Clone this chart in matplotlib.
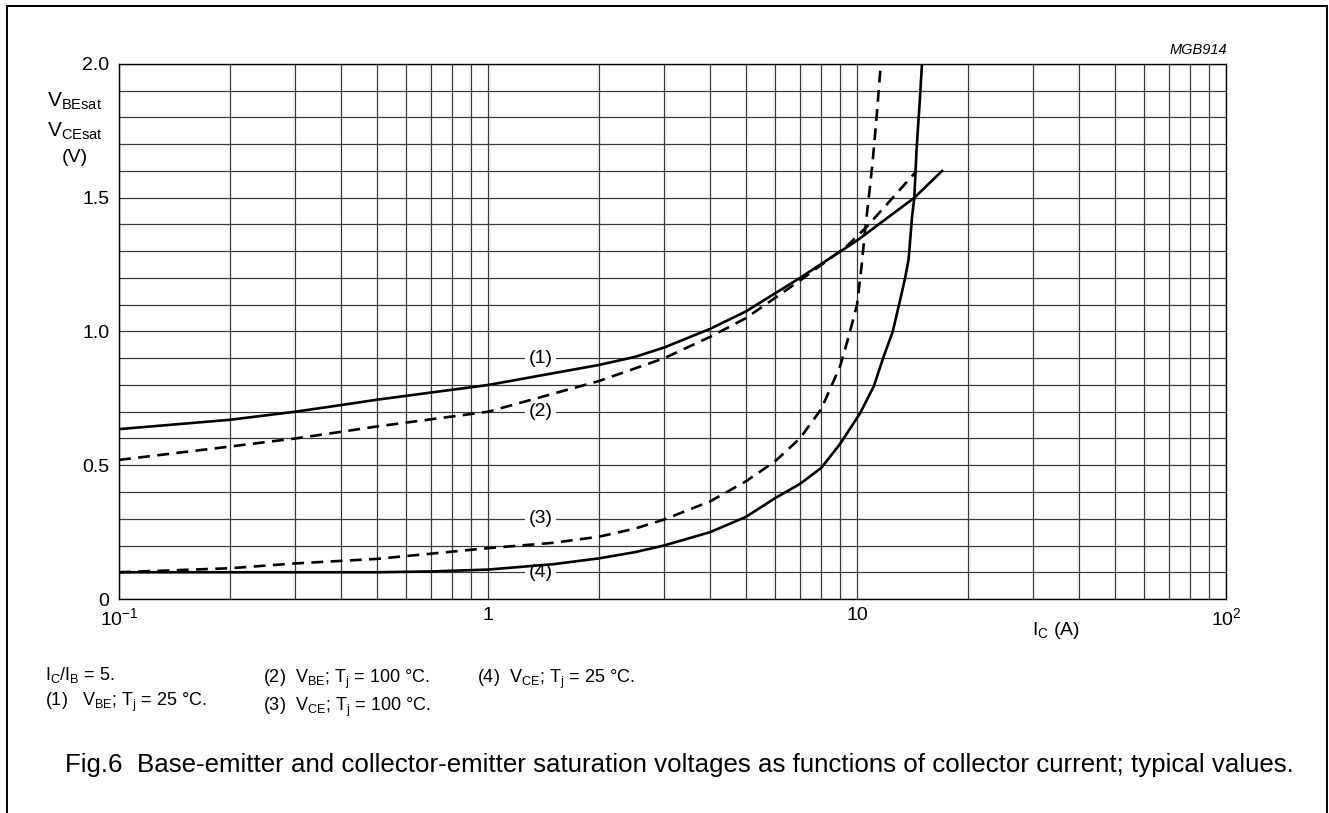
import numpy as np
import matplotlib.pyplot as plt
from matplotlib.lines import Line2D
from matplotlib.ticker import FixedLocator, LogLocator, NullFormatter

plt.rcParams['font.family'] = ['Liberation Sans', 'DejaVu Sans']
plt.rcParams['mathtext.fontset'] = 'custom'
plt.rcParams['mathtext.rm'] = 'Liberation Sans'
plt.rcParams['mathtext.it'] = 'Liberation Sans:italic'

# ---- data (IC in A, V in volts) ----
ic_1 = [0.1, 0.2, 0.3, 0.4, 0.5, 1, 2, 2.5, 3, 4, 5, 7, 10, 14.3, 17]
v_1 = [0.635, 0.67, 0.70, 0.725, 0.745, 0.80, 0.875, 0.905, 0.94, 1.01, 1.075, 1.20, 1.34, 1.50, 1.60]

ic_2 = [0.1, 0.2, 0.3, 0.4, 0.5, 1, 2, 3, 4, 5, 7, 9.4, 10.6, 12.5, 14.5]
v_2 = [0.52, 0.57, 0.60, 0.625, 0.645, 0.70, 0.815, 0.90, 0.98, 1.05, 1.19, 1.32, 1.39, 1.50, 1.60]

ic_3 = [0.1, 0.2, 0.3, 0.5, 1, 1.5, 2, 2.5, 3, 4, 5, 6, 7, 8, 9, 9.4, 9.7, 10, 10.3, 10.5, 10.8,
        11, 11.3, 11.6]
v_3 = [0.10, 0.115, 0.133, 0.15, 0.19, 0.21, 0.233, 0.263, 0.297, 0.365, 0.44, 0.515, 0.60, 0.71,
       0.87, 0.96, 1.03, 1.10, 1.25, 1.37, 1.52, 1.62, 1.80, 2.0]

ic_4 = [0.1, 0.3, 0.5, 0.7, 1, 1.5, 2, 2.5, 3, 4, 5, 6, 7, 8, 9, 10.2, 11.1, 11.8, 12.5, 13.1,
        13.5, 13.8, 13.95, 14.1, 14.3, 14.5, 14.8, 15.0]
v_4 = [0.10, 0.10, 0.10, 0.103, 0.11, 0.13, 0.152, 0.175, 0.20, 0.25, 0.307, 0.377, 0.43, 0.49,
       0.58, 0.695, 0.795, 0.905, 1.0, 1.12, 1.2, 1.27, 1.35, 1.43, 1.50, 1.68, 1.865, 2.0]

curve_labels = ['(1)', '(2)', '(3)', '(4)']
label_y = [0.9, 0.7, 0.3, 0.1]
label_x = 1.39

x_tick_vals = [0.1, 1, 10, 100]
x_tick_text = [r'$\mathregular{10^{-1}}$', '1', '10', r'$\mathregular{10^{2}}$']
y_tick_vals = [0, 0.5, 1.0, 1.5, 2.0]
y_tick_text = ['0', '0.5', '1.0', '1.5', '2.0']

# ---- figure ----
W, H = 1329, 813
fig = plt.figure(figsize=(W / 100, H / 100), dpi=100)


def fx(px):
    return px / W


def fy(py):
    return 1 - py / H


ax = fig.add_axes([fx(119), fy(599), fx(1226) - fx(119), fy(64) - fy(599)])
ax.set_xscale('log')
ax.set_xlim(0.1, 100)
ax.set_ylim(0, 2.0)

ax.xaxis.set_major_locator(FixedLocator(x_tick_vals))
ax.xaxis.set_minor_locator(LogLocator(base=10, subs=range(2, 10)))
ax.xaxis.set_minor_formatter(NullFormatter())
ax.set_xticklabels(x_tick_text)
ax.yaxis.set_major_locator(FixedLocator(y_tick_vals))
ax.yaxis.set_minor_locator(FixedLocator(np.arange(0, 2.01, 0.1)))
ax.set_yticklabels(y_tick_text)
ax.tick_params(which='both', length=0, labelsize=14)
ax.tick_params(axis='x', pad=6)
ax.tick_params(axis='y', pad=7)

ax.grid(which='both', color='#3a3a3a', lw=0.9)
ax.set_axisbelow(True)
for s in ax.spines.values():
    s.set_color('black')
    s.set_linewidth(1.0)

lw = 1.9
ax.plot(ic_1, v_1, color='black', lw=lw, zorder=4)
ax.plot(ic_2, v_2, color='black', lw=lw, dashes=(4.5, 2.8), zorder=4)
ax.plot(ic_3, v_3, color='black', lw=lw, dashes=(4.5, 2.8), zorder=4)
ax.plot(ic_4, v_4, color='black', lw=lw, zorder=4)

for lab, yy in zip(curve_labels, label_y):
    ax.text(label_x, yy, lab, ha='center', va='center', fontsize=14, zorder=3,
            bbox=dict(facecolor='white', edgecolor='none', pad=2.5))

# ---- texts around the graph ----
fig.text(fx(1227), fy(50), 'MGB914', ha='right', va='center', fontsize=10.5, style='italic')
fig.text(fx(75), fy(101), r'$\mathregular{V_{BEsat}}$', ha='center', va='center', fontsize=15)
fig.text(fx(75), fy(131), r'$\mathregular{V_{CEsat}}$', ha='center', va='center', fontsize=15)
fig.text(fx(75), fy(157), '(V)', ha='center', va='center', fontsize=14)
fig.text(fx(1056), fy(630), r'$\mathregular{I_C}$ (A)', ha='center', va='center', fontsize=14)

fs_note = 13
fig.text(fx(45), fy(675), r'$\mathregular{I_C/I_B}$ = 5.', ha='left', va='center', fontsize=fs_note)
fig.text(fx(45), fy(702), r'(1)   $\mathregular{V_{BE}}$; $\mathregular{T_j}$ = 25 °C.',
         ha='left', va='center', fontsize=fs_note)
fig.text(fx(263), fy(679), r'(2)  $\mathregular{V_{BE}}$; $\mathregular{T_j}$ = 100 °C.',
         ha='left', va='center', fontsize=fs_note)
fig.text(fx(263), fy(707), r'(3)  $\mathregular{V_{CE}}$; $\mathregular{T_j}$ = 100 °C.',
         ha='left', va='center', fontsize=fs_note)
fig.text(fx(477), fy(679), r'(4)  $\mathregular{V_{CE}}$; $\mathregular{T_j}$ = 25 °C.',
         ha='left', va='center', fontsize=fs_note)

fig.text(fx(65), fy(765), 'Fig.6  Base-emitter and collector-emitter saturation voltages as functions '
         'of collector current; typical values.', ha='left', va='center', fontsize=18.6)

# open frame around the figure
for xs, ys in [([fx(7), fx(7)], [0, fy(6)]),
               ([fx(7), fx(1327)], [fy(6), fy(6)]),
               ([fx(1327), fx(1327)], [fy(6), 0])]:
    fig.add_artist(Line2D(xs, ys, color='black', lw=1.4))

fig.savefig('out.png', dpi=100)
